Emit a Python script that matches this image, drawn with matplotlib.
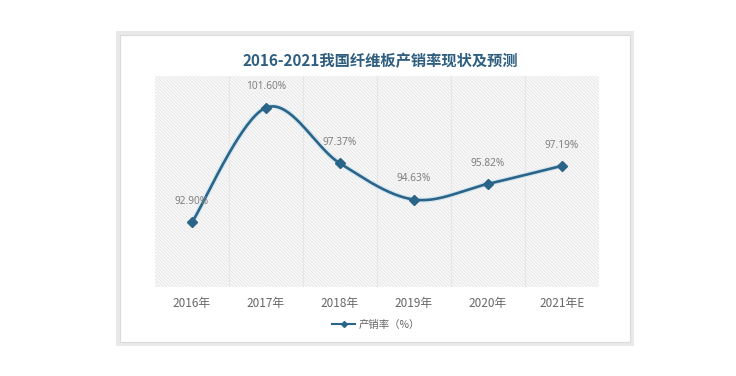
import numpy as np
import matplotlib
matplotlib.use("Agg")
import matplotlib.pyplot as plt
from matplotlib.patches import Rectangle
from matplotlib.lines import Line2D

categories = ["2016年", "2017年", "2018年", "2019年", "2020年", "2021年E"]
values = [92.90, 101.60, 97.37, 94.63, 95.82, 97.19]
labels = ["92.90%", "101.60%", "97.37%", "94.63%", "95.82%", "97.19%"]
title = "2016-2021我国纤维板产销率现状及预测"
series_name = "产销率（%）"

CJK = ["Noto Sans CJK SC", "DejaVu Sans"]
line_color = "#2A6589"

fig = plt.figure(figsize=(7.36, 3.76), dpi=100)
W, H = 736, 376

def fx(px):
    return px / W

def fy(py):
    return 1 - py / H

# outer frame with shadow
fig.patches.append(Rectangle((fx(116), fy(346)), fx(634) - fx(116), fy(31) - fy(346),
                             transform=fig.transFigure, facecolor="#E9E9E9",
                             edgecolor="none", zorder=0))
fig.patches.append(Rectangle((fx(120), fy(342)), fx(630) - fx(120), fy(35) - fy(342),
                             transform=fig.transFigure, facecolor="white",
                             edgecolor="#DADADA", linewidth=0.8, zorder=1))

ax = fig.add_axes([fx(155), fy(287), fx(599) - fx(155), fy(76) - fy(287)])
ax.set_zorder(2)
ax.patch.set_facecolor("#F9F9F9")
plt.rcParams["hatch.color"] = "#E2E2E2"
plt.rcParams["hatch.linewidth"] = 0.5
bg = Rectangle((0, 0), 1, 1, transform=ax.transAxes, facecolor="#F9F9F9",
               edgecolor="#E2E2E2", hatch="\\" * 10, linewidth=0, zorder=0)
ax.add_patch(bg)

x = np.arange(len(values))
ax.set_xlim(-0.5, len(values) - 0.5)
ax.set_ylim(88, 104)

for b in np.arange(0.5, len(values) - 0.5, 1):
    ax.axvline(b, color="#E6E6E6", linewidth=0.8, zorder=1)

# Excel-like smoothed line (cubic Bezier through points)
xs = list(x.astype(float))
ys = list(values)
P = [(xs[0], ys[0])] + list(zip(xs, ys)) + [(xs[-1], ys[-1])]
cx, cy = [], []
t = np.linspace(0, 1, 40)
for i in range(1, len(P) - 2):
    p0, p1, p2, p3 = np.array(P[i - 1]), np.array(P[i]), np.array(P[i + 1]), np.array(P[i + 2])
    c1 = p1 + (p2 - p0) / 6
    c2 = p2 - (p3 - p1) / 6
    seg = ((1 - t)[:, None] ** 3 * p1 + 3 * ((1 - t) ** 2 * t)[:, None] * c1
           + 3 * ((1 - t) * t ** 2)[:, None] * c2 + (t ** 3)[:, None] * p2)
    cx.extend(seg[:, 0]); cy.extend(seg[:, 1])
ax.plot(cx, cy, color="#D5E6F0", linewidth=3.6, zorder=3, solid_capstyle="round")
ax.plot(cx, cy, color=line_color, linewidth=1.9, zorder=4, solid_capstyle="round")
ax.plot(x, values, linestyle="none", marker="D", markersize=5.5, color=line_color, zorder=5)

for xi, v, lab in zip(x, values, labels):
    ax.annotate(lab, (xi, v), xytext=(0, 11), textcoords="offset points",
                ha="center", va="bottom", fontsize=7.3, color="#808080",
                family=["Noto Sans", "DejaVu Sans"], zorder=6)

ax.set_xticks(x)
ax.set_xticklabels(categories, fontsize=8.5, color="#666666", family=CJK)
ax.tick_params(axis="x", length=0, pad=7)
ax.set_yticks([])
for s in ax.spines.values():
    s.set_visible(False)

fig.text(fx(380), fy(61), title, ha="center", va="center", fontsize=11,
         fontweight="bold", color="#2F5F80", family=CJK)

# legend
handle = Line2D([], [], color=line_color, linewidth=1.5, marker="D", markersize=3)
fig.legend([handle], [series_name], loc="center", bbox_to_anchor=(fx(376), fy(325)),
           frameon=False, prop={"family": CJK, "size": 7.5}, labelcolor="#666666",
           handlelength=2.2, handletextpad=0.3)

fig.savefig("out.png", dpi=100)
